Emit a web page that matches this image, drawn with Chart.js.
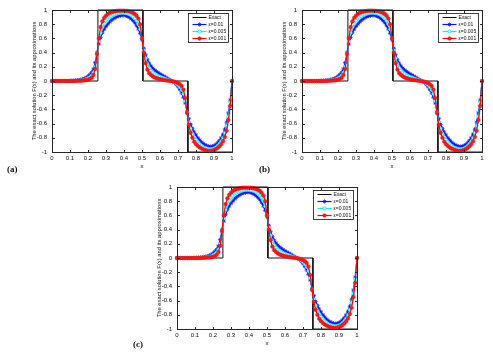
<!DOCTYPE html>
<html><head><meta charset="utf-8">
<script src="https://cdn.jsdelivr.net/npm/chart.js@4.4.0/dist/chart.umd.min.js"></script>
<style>
html,body{margin:0;padding:0;background:#fff;width:493px;height:356px;overflow:hidden;position:relative}
canvas{position:absolute}
.lab{position:absolute;font:bold 9px "Liberation Serif","Times New Roman",serif;color:#111;line-height:9px;white-space:nowrap}
</style></head><body>
<canvas id="ca" width="245" height="178" style="left:0px;top:0px"></canvas>
<canvas id="cb" width="245" height="178" style="left:250px;top:0px"></canvas>
<canvas id="cc" width="245" height="178" style="left:125px;top:177px"></canvas>
<div class="lab" style="left:7px;top:165px">(a)</div>
<div class="lab" style="left:259px;top:165px">(b)</div>
<div class="lab" style="left:133px;top:340px">(c)</div>
<script>
// ---- data ----
const panelLabels = ['(a)', '(b)', '(c)'];
const seriesNames = ['Exact', 'ε=0.01', 'ε=0.005', 'ε=0.001'];
const xGrid = [0,0.01,0.02,0.03,0.04,0.05,0.06,0.07,0.08,0.09,
  0.10,0.11,0.12,0.13,0.14,0.15,0.16,0.17,0.18,0.19,
  0.20,0.21,0.22,0.23,0.24,0.25,0.26,0.27,0.28,0.29,
  0.30,0.31,0.32,0.33,0.34,0.35,0.36,0.37,0.38,0.39,
  0.40,0.41,0.42,0.43,0.44,0.45,0.46,0.47,0.48,0.49,
  0.50,0.51,0.52,0.53,0.54,0.55,0.56,0.57,0.58,0.59,
  0.60,0.61,0.62,0.63,0.64,0.65,0.66,0.67,0.68,0.69,
  0.70,0.71,0.72,0.73,0.74,0.75,0.76,0.77,0.78,0.79,
  0.80,0.81,0.82,0.83,0.84,0.85,0.86,0.87,0.88,0.89,
  0.90,0.91,0.92,0.93,0.94,0.95,0.96,0.97,0.98,0.99,1.00];
const exactX = [0, 0.255, 0.255, 0.505, 0.505, 0.755, 0.755, 1];
const exactY = [0, 0, 1, 1, 0, 0, -1, -1];
const eps01 = [0,0,0,0,0,0,0,0,0,0,
  0.003,0.004,0.006,0.008,0.011,0.015,0.02,0.027,0.037,0.05,
  0.067,0.09,0.12,0.17,0.26,0.4,0.52,0.61,0.68,0.73,
  0.77,0.8,0.83,0.855,0.875,0.89,0.905,0.915,0.92,0.925,
  0.925,0.92,0.91,0.895,0.875,0.85,0.82,0.78,0.73,0.67,
  0.58,0.46,0.37,0.3,0.25,0.21,0.18,0.155,0.135,0.115,
  0.1,0.085,0.07,0.055,0.04,0.025,0.01,-0.005,-0.025,-0.05,
  -0.08,-0.12,-0.17,-0.23,-0.31,-0.43,-0.53,-0.61,-0.67,-0.72,
  -0.76,-0.8,-0.83,-0.86,-0.88,-0.9,-0.91,-0.92,-0.925,-0.92,
  -0.91,-0.895,-0.87,-0.84,-0.8,-0.75,-0.68,-0.58,-0.45,-0.27,0];
const eps005 = [0,0,0,0,0,0,0,0,0,0,
  0,0,0.002,0.003,0.005,0.007,0.01,0.014,0.02,0.028,
  0.04,0.055,0.08,0.12,0.2,0.39,0.56,0.68,0.76,0.81,
  0.85,0.875,0.895,0.915,0.93,0.94,0.95,0.955,0.96,0.96,
  0.96,0.955,0.95,0.94,0.925,0.905,0.88,0.85,0.8,0.73,
  0.6,0.43,0.32,0.24,0.18,0.145,0.12,0.1,0.085,0.07,
  0.06,0.05,0.04,0.03,0.02,0.012,0.004,-0.006,-0.018,-0.035,
  -0.055,-0.085,-0.125,-0.18,-0.28,-0.44,-0.58,-0.67,-0.74,-0.79,
  -0.83,-0.86,-0.89,-0.91,-0.93,-0.94,-0.95,-0.955,-0.96,-0.955,
  -0.95,-0.935,-0.915,-0.885,-0.85,-0.8,-0.73,-0.63,-0.5,-0.3,0];
const eps001 = [0,0,0,0,0,0,0,0,0,0,
  0,0,0,0.001,0.002,0.003,0.004,0.006,0.009,0.013,
  0.018,0.027,0.045,0.085,0.17,0.38,0.6,0.76,0.84,0.89,
  0.92,0.945,0.96,0.97,0.978,0.984,0.988,0.99,0.99,0.99,
  0.99,0.988,0.985,0.98,0.972,0.96,0.945,0.92,0.88,0.8,
  0.6,0.4,0.25,0.16,0.11,0.085,0.065,0.05,0.04,0.032,
  0.025,0.02,0.015,0.01,0.006,0.003,0,-0.004,-0.01,-0.018,
  -0.03,-0.045,-0.07,-0.12,-0.24,-0.45,-0.62,-0.73,-0.8,-0.855,
  -0.89,-0.915,-0.935,-0.95,-0.962,-0.972,-0.98,-0.985,-0.985,-0.98,
  -0.972,-0.96,-0.942,-0.92,-0.89,-0.85,-0.79,-0.7,-0.55,-0.35,0];
const yTitle = 'The exact solution F(x) and its approximations';
const xTitle = 'x';

// ---- drawing ----
const AX = '#262626';
const fmt = v => { const r = Math.round(v * 10) / 10; return String(r === 0 ? 0 : r); };
const matlabPlugin = {
  id: 'matlabBox',
  afterDatasetsDraw(chart) {
    const {ctx, chartArea: a, scales: {x, y}} = chart;
    ctx.save();
    ctx.strokeStyle = AX; ctx.lineWidth = 1;
    const l = Math.round(a.left) + 0.5, r = Math.round(a.right) + 0.5;
    const t = Math.round(a.top) + 0.5, b = Math.round(a.bottom) + 0.5;
    ctx.strokeRect(l, t, r - l, b - t);
    const L = 2.5;
    ctx.beginPath();
    x.ticks.forEach(tk => {
      const p = Math.round(x.getPixelForValue(tk.value)) + 0.5;
      ctx.moveTo(p, b); ctx.lineTo(p, b - L);
      ctx.moveTo(p, t); ctx.lineTo(p, t + L);
    });
    y.ticks.forEach(tk => {
      const p = Math.round(y.getPixelForValue(tk.value)) + 0.5;
      ctx.moveTo(l, p); ctx.lineTo(l + L, p);
      ctx.moveTo(r, p); ctx.lineTo(r - L, p);
    });
    ctx.stroke();
    // legend inside plot, top right
    const ds = chart.data.datasets;
    const w = 40, h = 29, bx = Math.round(a.right - 4 - w) + 0.5, by = Math.round(a.top + 3) + 0.5;
    ctx.fillStyle = '#fff';
    ctx.fillRect(bx, by, w, h);
    ctx.strokeStyle = '#111'; ctx.lineWidth = 0.8;
    ctx.strokeRect(bx, by, w, h);
    ctx.font = '5px "Liberation Sans", Arial, sans-serif';
    ctx.textBaseline = 'middle'; ctx.textAlign = 'left';
    ds.forEach((d, i) => {
      const cy = by + 4 + i * 7;
      ctx.strokeStyle = d.borderColor; ctx.lineWidth = d.borderWidth;
      ctx.beginPath(); ctx.moveTo(bx + 4, cy); ctx.lineTo(bx + 18, cy); ctx.stroke();
      if (d.pointRadius > 0) {
        ctx.fillStyle = d.pointBackgroundColor; ctx.strokeStyle = d.pointBorderColor;
        ctx.lineWidth = d.pointBorderWidth;
        Chart.helpers.drawPoint(ctx, {pointStyle: d.pointStyle, radius: d.pointRadius, rotation: 0, borderWidth: d.pointBorderWidth}, bx + 11, cy);
      }
      ctx.fillStyle = '#111';
      ctx.fillText(d.label, bx + 20, cy + 0.3);
    });
    ctx.restore();
  }
};

function makeChart(id) {
  const tickFont = {family: '"Liberation Sans", Arial, sans-serif', size: 6};
  return new Chart(document.getElementById(id), {
    type: 'line',
    data: {
      labels: xGrid,
      datasets: [
        {label: seriesNames[0], data: exactX.map((v, i) => ({x: v, y: exactY[i]})),
         borderColor: '#111', borderWidth: 1, pointRadius: 0, order: 4, tension: 0},
        {label: seriesNames[1], data: eps01, borderColor: '#1010ff', borderWidth: 1.2,
         pointStyle: 'star', pointRadius: 2, pointBorderWidth: 0.8,
         pointBorderColor: '#1010ff', pointBackgroundColor: '#1010ff', order: 3},
        {label: seriesNames[2], data: eps005, borderColor: '#00f0ff', borderWidth: 1.2,
         pointStyle: 'circle', pointRadius: 1.6, pointBorderWidth: 0.6,
         pointBorderColor: '#00e8ff', pointBackgroundColor: '#9ff', order: 2},
        {label: seriesNames[3], data: eps001, borderColor: '#ff0000', borderWidth: 1.2,
         pointStyle: 'circle', pointRadius: 1.8, pointBorderWidth: 0.5,
         pointBorderColor: '#ff0000', pointBackgroundColor: '#ff1a1a', order: 1}
      ].map(d => Object.assign({fill: false, clip: false, tension: 0}, d))
    },
    options: {
      responsive: false, animation: false, devicePixelRatio: 1,
      layout: {padding: {left: 0, right: 13, top: 10, bottom: 0}},
      plugins: {legend: {display: false}, tooltip: {enabled: false}},
      scales: {
        x: {type: 'linear', min: 0, max: 1,
            grid: {display: false, drawTicks: false}, border: {display: false},
            ticks: {stepSize: 0.1, padding: 3, color: '#111', font: tickFont, maxRotation: 0, autoSkip: false, callback: fmt},
            title: {display: true, text: xTitle, color: '#111', font: tickFont, padding: {top: 0, bottom: 8.4}},
            afterFit: s => { s.height = 26; }},
        y: {type: 'linear', min: -1, max: 1,
            grid: {display: false, drawTicks: false}, border: {display: false},
            ticks: {stepSize: 0.2, padding: 5, color: '#111', font: tickFont, autoSkip: false, callback: fmt},
            title: {display: true, text: yTitle, color: '#111',
                    font: {family: '"Liberation Sans", Arial, sans-serif', size: 5.8},
                    padding: {top: 30.5, bottom: 0}},
            afterFit: s => { s.width = 52; }}
      }
    },
    plugins: [matlabPlugin]
  });
}
['ca', 'cb', 'cc'].forEach(makeChart);
</script>
</body></html>
